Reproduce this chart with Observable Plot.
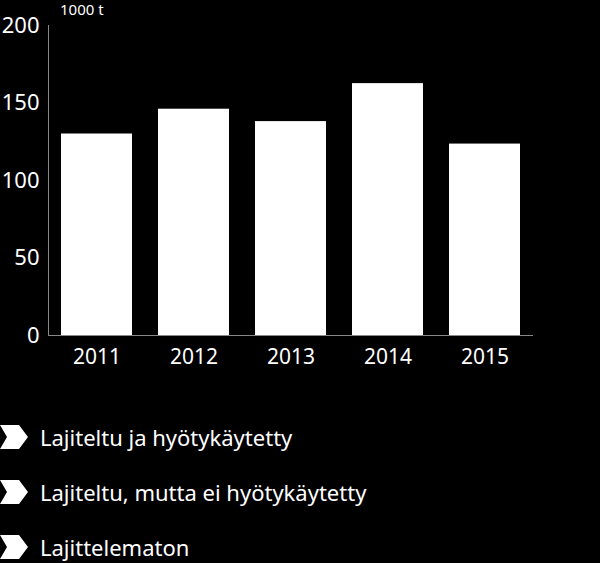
<!DOCTYPE html>
<html>
<head>
<meta charset="utf-8">
<script src="https://cdn.jsdelivr.net/npm/d3@7"></script>
<script src="https://cdn.jsdelivr.net/npm/@observablehq/plot@0.6"></script>
<style>
  html, body { margin: 0; padding: 0; background: #000; }
  body { width: 600px; height: 563px; overflow: hidden; font-family: "Noto Sans", sans-serif; color: #fff; }
  #chart { position: relative; height: 375px; }
  #chart svg { display: block; }
  .unit { position: absolute; left: 60px; top: 0px; font-size: 15px; line-height: 18px; color: #fff; }
  .legend { margin-top: 34px; }
  .legend .item { display: flex; align-items: center; height: 55px; font-size: 22px; }
  .legend svg { margin-right: 12px; }
</style>
</head>
<body>
<div id="chart"><div class="unit">1000 t</div></div>
<div class="legend" id="legend"></div>
<script>
const years = ["2011", "2012", "2013", "2014", "2015"];
const values = [130, 146, 138, 162.5, 123.5];
const yTicks = [0, 50, 100, 150, 200];
const legendLabels = ["Lajiteltu ja hyötykäytetty", "Lajiteltu, mutta ei hyötykäytetty", "Lajittelematon"];

const data = years.map((y, i) => ({year: y, value: values[i]}));

const plot = Plot.plot({
  width: 600,
  height: 375,
  marginLeft: 48,
  marginRight: 67,
  marginTop: 25,
  marginBottom: 40,
  style: {background: "#000", color: "#fff", fontFamily: "Noto Sans, sans-serif", fontSize: "21px"},
  x: {domain: years, paddingInner: 0.27, paddingOuter: 0.135, label: null},
  y: {domain: [0, 200], label: null},
  marks: [
    Plot.barY(data, {x: "year", y: "value", fill: "#fff"}),
    Plot.frame({anchor: "left", stroke: "#888"}),
    Plot.ruleY([0], {stroke: "#888"}),
    Plot.axisY({ticks: yTicks, tickSize: 0, tickPadding: 9, fontSize: 22, fill: "#fff", label: null}),
    Plot.axisX({tickSize: 0, tickPadding: 14, fontSize: 21, fill: "#fff", label: null})
  ]
});
document.getElementById("chart").appendChild(plot);

const legend = d3.select("#legend");
legendLabels.forEach(l => {
  const item = legend.append("div").attr("class", "item");
  item.append("svg").attr("width", 28).attr("height", 26)
    .append("path").attr("d", "M0,1 L19,1 L28,13 L19,25 L0,25 L7,13 Z").attr("fill", "#fff");
  item.append("span").text(l);
});
</script>
</body>
</html>
